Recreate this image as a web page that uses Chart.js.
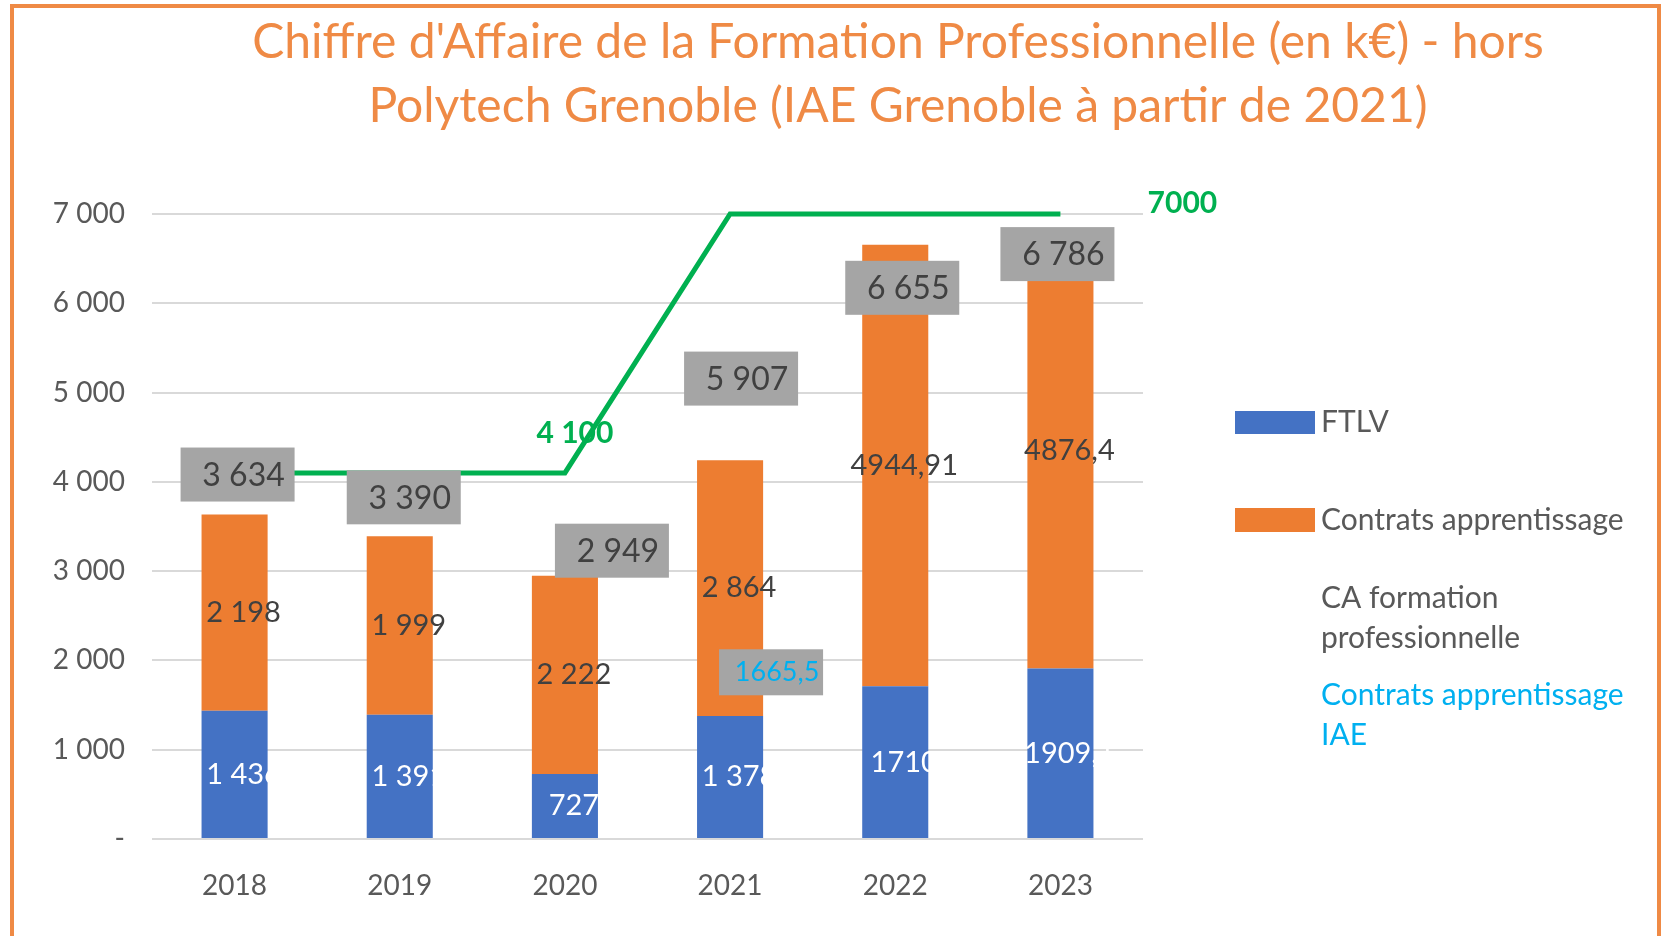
<!DOCTYPE html>
<html lang="fr">
<head>
<meta charset="utf-8">
<title>Chiffre d'Affaire de la Formation Professionnelle</title>
<script src="https://cdn.jsdelivr.net/npm/chart.js@4.4.1/dist/chart.umd.min.js"></script>
<style>
  html, body { margin: 0; padding: 0; background: #fff; }
  #wrap { position: relative; width: 1665px; height: 936px; }
</style>
</head>
<body>
<div id="wrap"><canvas id="caChart"></canvas></div>
<script>
// Data (k€)
const years = ['2018', '2019', '2020', '2021', '2022', '2023'];
const ftlv = [1436, 1391, 727, 1378, 1710, 1909.1];
const apprentissage = [2198, 1999, 2222, 2864, 4944.91, 4876.4];
const caTotal = [3634, 3390, 2949, 5907, 6655, 6786];
const apprentissageIae = [null, null, null, 1665.5, null, null];
const objectif = [4100, 4100, 4100, 7000, 7000, 7000];
const yTicks = [0, 1000, 2000, 3000, 4000, 5000, 6000, 7000];
// 2022 / 2023 cells are shown without thousands separator in the original
const groupedFormat = [true, true, true, true, false, false];

const titleLines = [
  "Chiffre d'Affaire de la Formation Professionnelle (en k\u20ac) - hors",
  "Polytech Grenoble (IAE Grenoble \u00e0 partir de 2021)"
];

const BLUE = '#4472c4';
const ORANGE = '#ed7d31';
const GREEN = '#00b050';
const CYAN = '#00b0f0';
const TEXT = '#404040';
const AXIS_TEXT = '#595959';
const FRAME = '#ef8a45';
const FONT = 'Lato, "Open Sans", sans-serif';

// manual label shifts (px) copied from the hand-placed labels of the original
const totalBoxShift = [[3, -40], [4, -39], [47, -25], [11, 67], [7, 43], [-3, 21]];
const iaeBoxShift = [41, -18];
const objectifLabels = { 2: [10, -40], 5: [122, -11] };

function fmt(v, grouped) {
  if (v === null || v === undefined) return '';
  let s = String(v).replace('.', ',');
  if (grouped && Number.isInteger(v)) {
    s = String(v).replace(/\B(?=(\d{3})+(?!\d))/g, ' ');
  }
  return s;
}

const excelLabels = {
  id: 'excelLabels',
  beforeDraw(chart) {
    const ctx = chart.ctx;
    ctx.save();
    ctx.fillStyle = '#ffffff';
    ctx.fillRect(0, 0, chart.width, chart.height);
    // orange frame around the chart
    ctx.strokeStyle = FRAME;
    ctx.lineWidth = 4;
    ctx.strokeRect(12, 6, chart.width - 18, chart.height + 20);
    // title
    ctx.fillStyle = FRAME;
    ctx.font = '48px ' + FONT;
    ctx.textAlign = 'center';
    ctx.textBaseline = 'middle';
    titleLines.forEach((t, i) => ctx.fillText(t, 898, 43 + i * 64));
    ctx.restore();
  },
  afterDatasetsDraw(chart) {
    const ctx = chart.ctx;
    ctx.save();
    ctx.textAlign = 'center';
    ctx.textBaseline = 'middle';

    // labels inside the stacked bars
    [0, 1].forEach(di => {
      const meta = chart.getDatasetMeta(di);
      const values = chart.data.datasets[di].data;
      meta.data.forEach((el, i) => {
        ctx.font = '29px ' + FONT;
        ctx.fillStyle = di === 0 ? '#ffffff' : TEXT;
        ctx.fillText(fmt(values[i], groupedFormat[i]), el.x + 9, (el.y + el.base) / 2);
      });
    });

    // green target labels
    const objMeta = chart.getDatasetMeta(4);
    Object.keys(objectifLabels).forEach(k => {
      const i = Number(k);
      const pt = objMeta.data[i];
      const sh = objectifLabels[k];
      ctx.font = 'bold 30px ' + FONT;
      ctx.fillStyle = GREEN;
      ctx.fillText(fmt(objectif[i], groupedFormat[i]), pt.x + sh[0], pt.y + sh[1]);
    });

    // grey boxes with totals
    const totMeta = chart.getDatasetMeta(2);
    totMeta.data.forEach((pt, i) => {
      const cx = pt.x + totalBoxShift[i][0];
      const cy = pt.y + totalBoxShift[i][1];
      ctx.fillStyle = '#a5a5a5';
      ctx.fillRect(cx - 57, cy - 27, 114, 54);
      ctx.fillStyle = TEXT;
      ctx.font = '32px ' + FONT;
      ctx.fillText(fmt(caTotal[i], true), cx + 6, cy + 1);
    });

    // IAE apprenticeship label
    const iaeMeta = chart.getDatasetMeta(3);
    iaeMeta.data.forEach((pt, i) => {
      if (apprentissageIae[i] === null) return;
      const cx = pt.x + iaeBoxShift[0];
      const cy = pt.y + iaeBoxShift[1];
      ctx.fillStyle = '#a5a5a5';
      ctx.fillRect(cx - 52, cy - 23, 104, 46);
      ctx.fillStyle = CYAN;
      ctx.font = '27px ' + FONT;
      ctx.fillText(fmt(apprentissageIae[i], false), cx + 6, cy);
    });
    ctx.restore();
  },
  afterDraw(chart) {
    // legend on the right
    const ctx = chart.ctx;
    const x = chart.chartArea.right + 92;
    const tx = x + 86;
    ctx.save();
    ctx.textAlign = 'left';
    ctx.textBaseline = 'middle';
    ctx.font = '30px ' + FONT;

    ctx.fillStyle = BLUE;
    ctx.fillRect(x, 411, 80, 23);
    ctx.fillStyle = AXIS_TEXT;
    ctx.fillText('FTLV', tx, 422);

    ctx.fillStyle = ORANGE;
    ctx.fillRect(x, 508, 80, 24);
    ctx.fillStyle = AXIS_TEXT;
    ctx.fillText('Contrats apprentissage', tx, 520);

    ctx.fillText('CA formation', tx, 598);
    ctx.fillText('professionnelle', tx, 638);

    ctx.fillStyle = CYAN;
    ctx.fillText('Contrats apprentissage', tx, 695);
    ctx.fillText('IAE', tx, 735);
    ctx.restore();
  }
};

const ctx = document.getElementById('caChart').getContext('2d');
const chart = new Chart(ctx, {
  type: 'bar',
  data: {
    labels: years,
    datasets: [
      {
        label: 'FTLV',
        data: ftlv,
        backgroundColor: BLUE,
        stack: 'ca',
        barPercentage: 0.4,
        categoryPercentage: 1
      },
      {
        label: 'Contrats apprentissage',
        data: apprentissage,
        backgroundColor: ORANGE,
        stack: 'ca',
        barPercentage: 0.4,
        categoryPercentage: 1
      },
      {
        type: 'line',
        label: 'CA formation professionnelle',
        data: caTotal,
        stack: 'total',
        showLine: false,
        pointRadius: 0
      },
      {
        type: 'line',
        label: 'Contrats apprentissage IAE',
        data: apprentissageIae,
        stack: 'iae',
        showLine: false,
        pointRadius: 0
      },
      {
        type: 'line',
        label: 'Objectif',
        data: objectif,
        stack: 'objectif',
        borderColor: GREEN,
        borderWidth: 5,
        pointRadius: 0,
        tension: 0,
        fill: false,
        clip: false
      }
    ]
  },
  options: {
    responsive: true,
    maintainAspectRatio: false,
    animation: false,
    events: [],
    layout: { padding: { top: 214, right: 522, left: 2, bottom: 0 } },
    plugins: {
      legend: { display: false },
      title: { display: false },
      tooltip: { enabled: false }
    },
    scales: {
      x: {
        stacked: true,
        grid: { display: false },
        border: { display: false },
        ticks: { color: AXIS_TEXT, font: { family: FONT, size: 28 }, padding: 22 },
        afterFit(scale) { scale.height = 97; }
      },
      y: {
        stacked: true,
        min: 0,
        max: 7000,
        afterBuildTicks(scale) { scale.ticks = yTicks.map(v => ({ value: v })); },
        grid: { color: '#d9d9d9', lineWidth: 2, drawTicks: false },
        border: { display: false },
        ticks: {
          color: AXIS_TEXT,
          font: { family: FONT, size: 28 },
          padding: 27,
          callback: v => (v === 0 ? '-' : fmt(v, true))
        },
        afterFit(scale) { scale.width = 150; }
      }
    }
  },
  plugins: [excelLabels]
});
</script>
</body>
</html>
